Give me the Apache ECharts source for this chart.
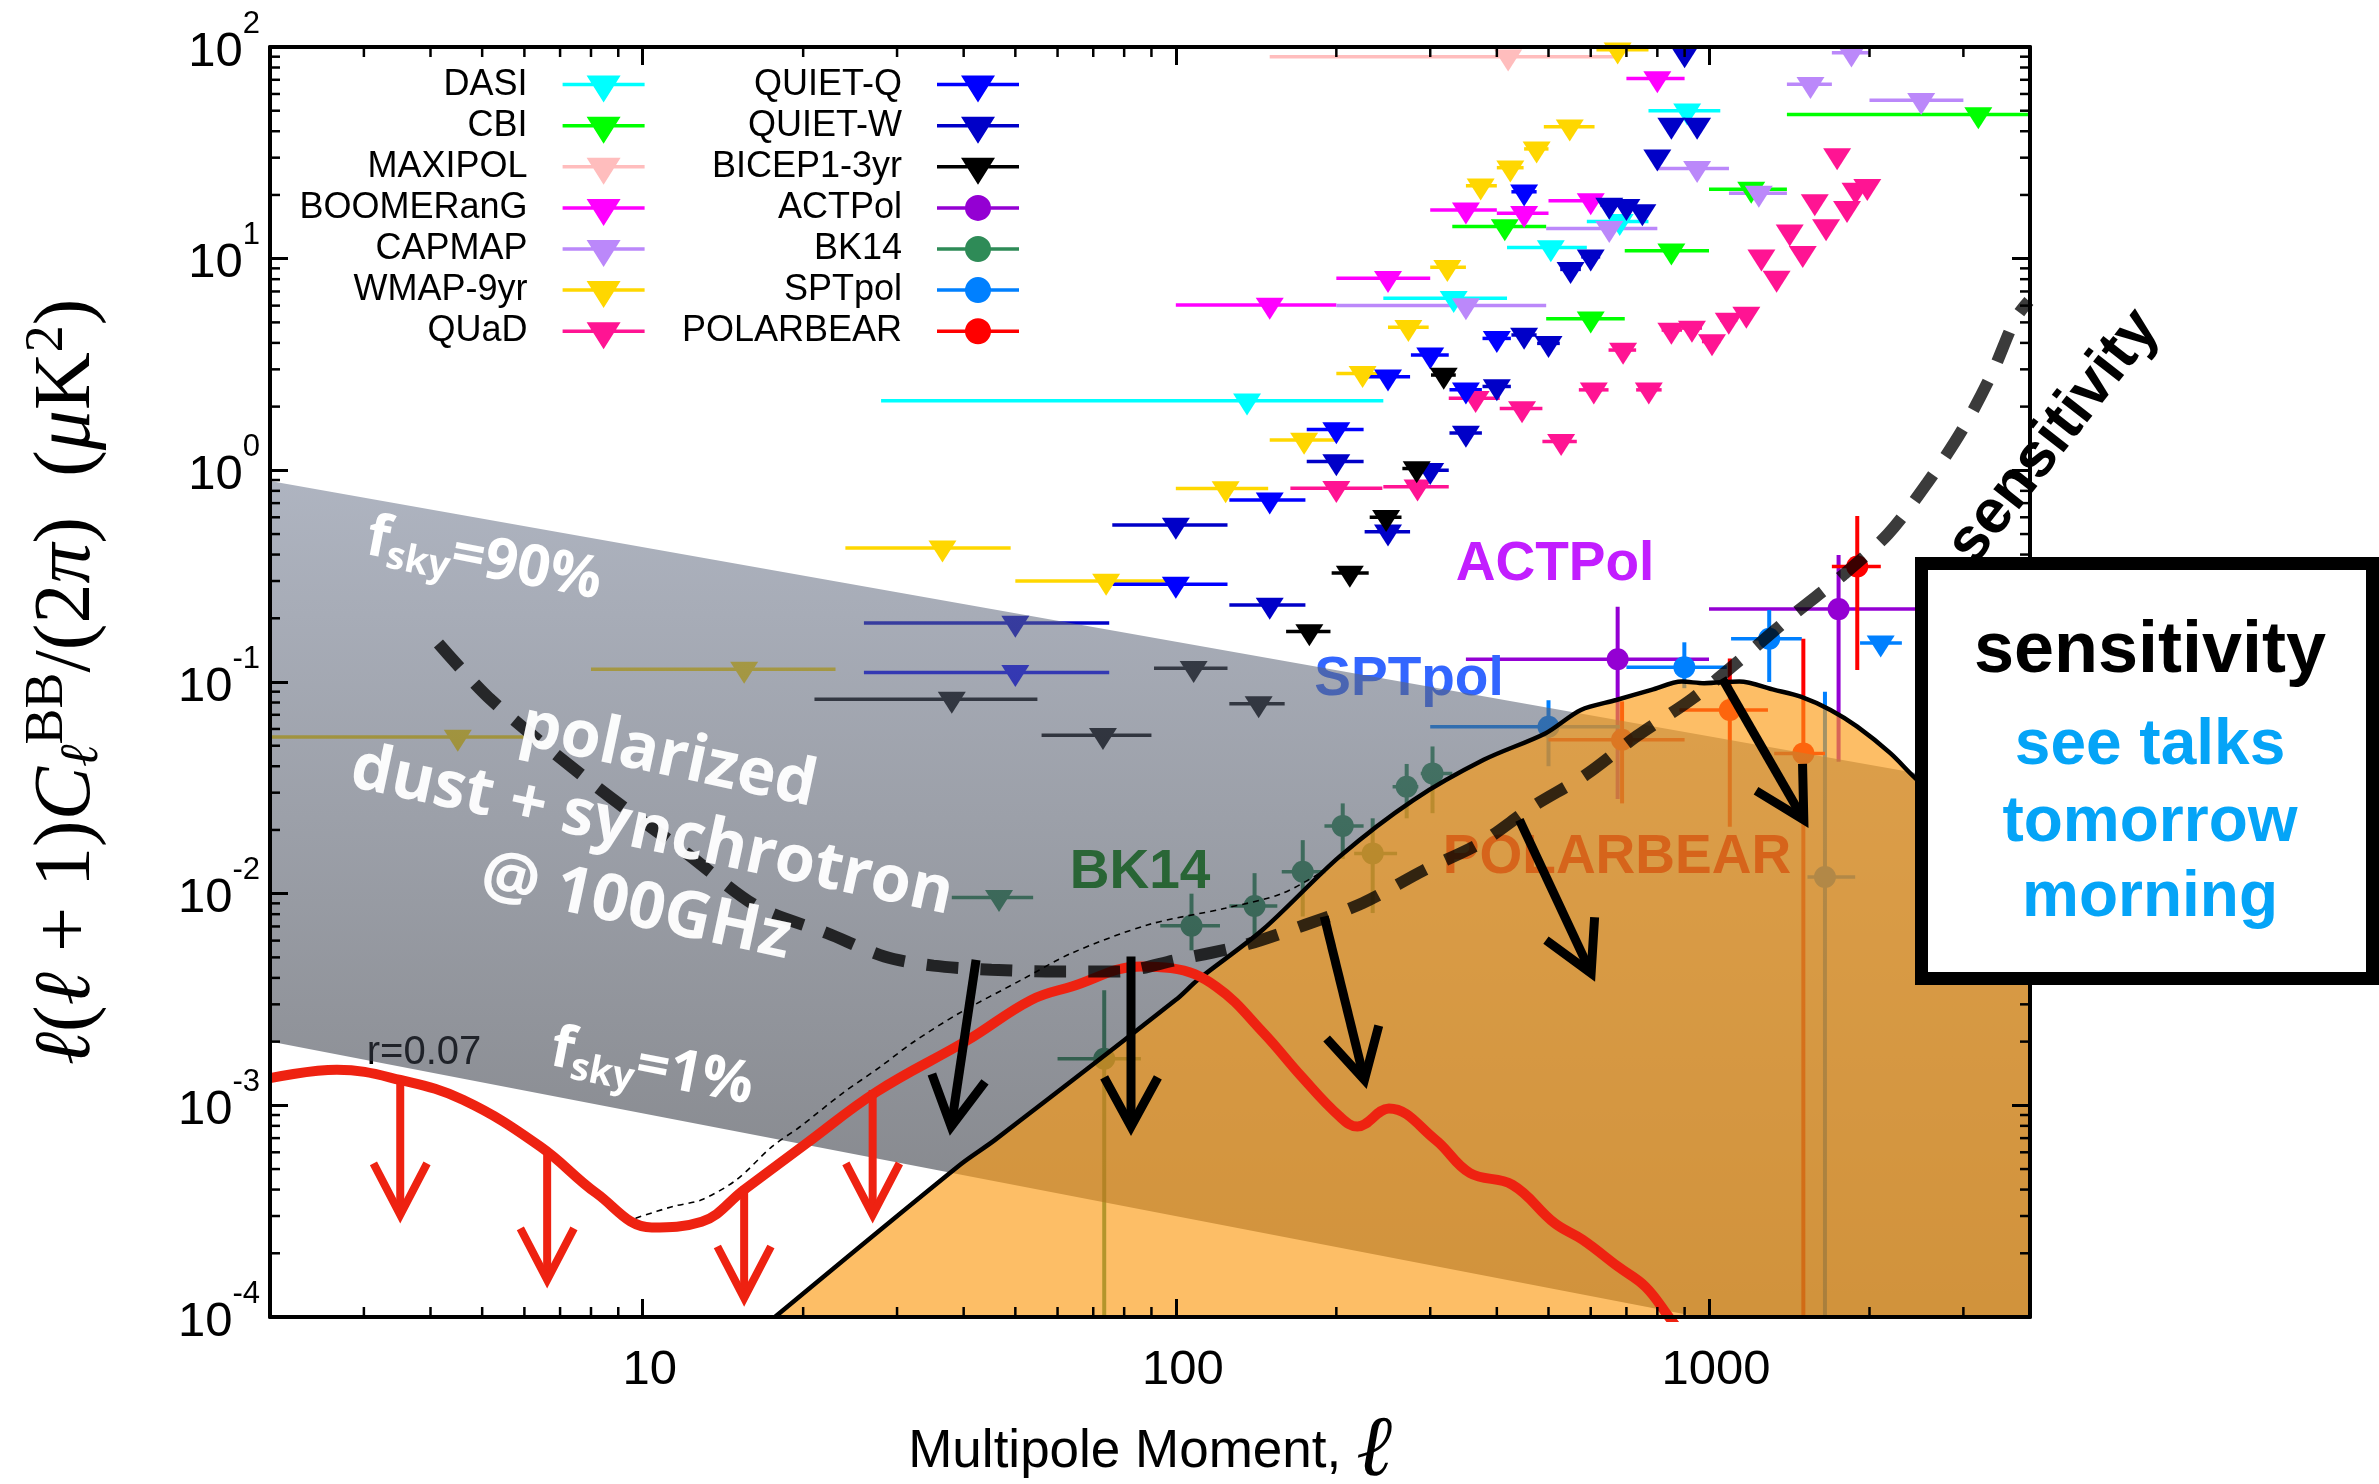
<!DOCTYPE html>
<html><head><meta charset="utf-8">
<script src="https://cdn.jsdelivr.net/npm/echarts@6.0.0/dist/echarts.min.js"></script>
<style>html,body{margin:0;padding:0;background:#fff}#c{width:2379px;height:1484px}</style>
</head><body><div id="c"></div>
<script>
// ================= DATA =================
const X_MIN = 2, X_MAX = 4000, Y_MIN = 1e-4, Y_MAX = 100;
const xTickValues = [10, 100, 1000];
const xTickLabels = ['10', '100', '1000'];
const yTickValues = [1e-4, 1e-3, 1e-2, 1e-1, 1, 10, 100];
const yTickExps = ['-4', '-3', '-2', '-1', '0', '1', '2'];
const minorMult = [2, 3, 4, 5, 6, 7, 8, 9];
const xMinorDecades = [1, 10, 100, 1000];
const yMinorDecades = [1e-4, 1e-3, 1e-2, 1e-1, 1, 10];

// upper limits: [l, lmin, lmax, value]
const DASI = [[136,28,245,2.13],[332,245,418,6.5],[505,418,590,11.3],[680,590,770,15],[910,770,1050,50]];
const CBI = [[414,330,495,14.2],[600,495,695,5.2],[850,695,1000,10.9],[1200,1000,1400,21.3],[3200,1400,4000,48]];
const MAXIPOL = [[420,150,675,90]];
const BOOMERANG = [[150,100,200,6.04],[250,200,300,8.08],[350,300,400,17.0],[450,400,500,16.4],[600,500,700,18.8],[800,700,900,71]];
const CAPMAP = [[350,200,495,6.0],[650,495,800,13.9],[950,800,1090,26.7],[1240,1090,1400,20.4],[1550,1400,1700,66.6],[1850,1700,2000,94],[2500,2000,3000,56]];
const WMAP9 = [[4.5,2,6,0.055],[15.5,8,23,0.115],[36.5,24,49,0.43],[74,50,96,0.30],[124,100,149,0.82],[174,150,199,1.39],[224,200,249,2.87],[273,250,298,4.74],[323,300,350,9.1],[373,350,400,22.1],[424,400,449,26.9],[475,450,500,33],[548,490,610,42],[674,615,770,97]];
const QUAD = [[200,164,244,0.823],[284,245,325,0.837],[365,325,405,2.19],[446,405,487,1.96],[528,487,565,1.37],[608,570,648,2.40],[690,648,730,3.7],[771,730,815,2.40],[850,815,890,4.6],[929,890,970,4.7],[1013,970,1050,4.06],[1089,1050,1130,5.13],[1175,1130,1215,5.48],[1254,1215,1295,10.2],[1339,1295,1380,8.1],[1417,1380,1460,13.4],[1499,1460,1540,10.6],[1579,1540,1620,18.6],[1658,1620,1700,14.2],[1739,1700,1780,30.7],[1815,1780,1850,17.3],[1883,1850,1930,21.1],[1981,1930,2030,22.0]];
const QUIET_Q = [[50,26,75,0.111],[100,76,125,0.29],[150,126,175,0.725],[200,176,225,1.56],[250,226,275,2.77],[300,276,325,3.51],[350,326,375,2.40],[400,376,425,4.2],[450,426,475,20.7]];
const QUIET_W = [[50,26,75,0.19],[100,76,125,0.552],[150,126,175,0.231],[200,176,225,1.10],[250,226,275,0.513],[300,276,325,1.0],[350,326,375,1.50],[400,376,425,2.49],[450,426,475,4.36],[500,476,525,3.98],[550,526,575,8.9],[600,576,625,10.2],[650,626,675,17.9],[700,676,725,17.7],[750,726,775,16.7],[800,776,825,30.3],[850,826,875,42.8],[900,876,925,93],[950,926,975,42.8]];
const BICEP1 = [[38,21,55,0.083],[73,56,90,0.056],[108,91,125,0.116],[143,126,160,0.079],[178,161,195,0.173],[212,196,230,0.327],[248,231,265,0.60],[283,266,300,1.02],[318,301,335,2.82]];
const BK14_UL = [[46.6,38,54,0.0096]];
const SPTPOL_UL = [[2099,1920,2300,0.153]];
// detections: [l, lmin, lmax, value, errLow, errHigh]
const BK14 = [[73.4,60,86,0.00166,1e-5,0.0035],[107,93.5,121,0.00705,0.0054,0.010],[140.5,126,155,0.00875,0.00627,0.0125],[173,158,191,0.0127,0.0078,0.0179],[205.6,190,225,0.0209,0.0146,0.0267],[234,216,260,0.0155,0.0081,0.0227],[271,255,285,0.032,0.0227,0.041],[303,288,330,0.037,0.024,0.0496]];
const ACTPOL = [[674,350,1000,0.128,0.028,0.227],[1750,1000,3000,0.221,0.042,0.398]];
const SPTPOL = [[500,300,680,0.0615,0.040,0.082],[899,700,1080,0.1175,0.0935,0.154],[1297,1100,1493,0.160,0.100,0.219],[1650,1530,1880,0.012,1e-5,0.09]];
const POLARBEAR = [[687,500,900,0.0533,0.0267,0.081],[1094,880,1290,0.0738,0.0207,0.129],[1503,1325,1650,0.046,1e-5,0.16],[1897,1700,2100,0.351,0.114,0.609]];

// theory curves
const lensL = [17.7,39.5,45.8,100,110,145.5,203,279,378,494,575,670,780,889,979,1140,1327,1486,1690,1897,2188,2421,2818,4000];
const lensV = [1.0e-4,5.27e-4,6.87e-4,3.15e-3,3.92e-3,6.75e-3,0.0150,0.0277,0.0429,0.0573,0.0738,0.0822,0.0918,0.1005,0.0987,0.1005,0.0918,0.0853,0.0738,0.0615,0.0461,0.0357,0.0251,0.0112];
const rL = [2,2.67,3.51,4.6,6.43,8.18,10.4,12.9,15.5,20.3,27.5,40.8,53.6,63.8,85.9,98,119,146,172,203,219,251,307,356,428,513,579,675,760,841,900];
const rV = [1.343e-3,1.472e-3,1.318e-3,1.062e-3,6.38e-4,3.85e-4,2.65e-4,2.82e-4,3.99e-4,6.62e-4,1.161e-3,2.04e-3,3.15e-3,3.64e-3,4.53e-3,4.45e-3,3.64e-3,2.2e-3,1.37e-3,8.85e-4,7.94e-4,9.66e-4,6.87e-4,4.79e-4,4.21e-4,2.78e-4,2.32e-4,1.73e-4,1.39e-4,1.0e-4,8e-5];
const totL = [9.7,11.4,12.9,15.0,17.5,19.7,23.7,27.9,32,39,51.4,63.8,88.7,123.6,158,191];
const totV = [2.93e-4,3.33e-4,3.58e-4,4.45e-4,6.4e-4,7.9e-4,1.14e-3,1.52e-3,1.97e-3,2.7e-3,3.92e-3,5.24e-3,7.13e-3,8.53e-3,0.0100,0.0130];
const sensL = [4.14,5.2,8.18,12.1,16.4,22.2,28.4,35.1,45.1,59.7,77.8,100,135,175,224,292,372,467,586,733,933,1164,1432,1786,2168,2564,2985,3396,3758,3981];
const sensV = [0.152,0.0822,0.0321,0.0155,8.69e-3,6.50e-3,5.05e-3,4.57e-3,4.37e-3,4.29e-3,4.29e-3,4.86e-3,5.73e-3,7.13e-3,9.02e-3,0.0129,0.0173,0.0258,0.0363,0.0556,0.0838,0.132,0.206,0.321,0.501,0.869,1.552,2.877,5.22,6.31];
// foreground band (fsky = 90% upper edge, fsky = 1% lower edge)
const fsky90 = [[2, 0.891], [4000, 0.0298]];
const fsky1 = [[2, 0.0020], [4000, 5.0e-5]];
// arrows
const redArrows = [[3.51,1.28e-3,3.04e-4],[6.62,6.03e-4,1.50e-4],[15.5,4.12e-4,1.23e-4],[27.0,1.18e-3,3.04e-4]];
const blackArrows = [[42.2,4.87e-3,37.9,7.94e-4],[82.4,5.05e-3,82.4,7.94e-4],[189.8,7.8e-3,225.8,1.32e-3],[441,0.0223,601,4.21e-3],[1059,0.104,1506,0.0223]];

// ================= STYLE =================
const FONT = '"Liberation Sans", Arial, Helvetica, sans-serif';
const SERIF = '"Liberation Serif", "DejaVu Serif", serif';
const HUM = '"Open Sans", Lato, sans-serif';
const TRI = 'path://M0,0L28,0L14,22Z';
const TRI_ICON = 'path://M0,0M112,36M30,16.25L112,16.25L112,19.75L30,19.75ZM54,9L88,9L71,36Z';
const CIR_ICON = 'path://M0,0M112,36M30,16.25L112,16.25L112,19.75L30,19.75ZM84,18A13,13,0,1,1,58,18A13,13,0,1,1,84,18Z';
const COLORS = {
  'DASI':'#00FFFF','CBI':'#00FF00','MAXIPOL':'#FFBDBD','BOOMERanG':'#FF00FF','CAPMAP':'#BB88FA','WMAP-9yr':'#FFD700','QUaD':'#FF1493',
  'QUIET-Q':'#0000FF','QUIET-W':'#0000C8','BICEP1-3yr':'#000000','ACTPol':'#9400D3','BK14':'#2E8B57','SPTpol':'#0080FF','POLARBEAR':'#FF0000'
};

function barSeries(name, arr, hasErr) {
  const color = COLORS[name];
  return {
    type: 'custom', name, coordinateSystem: 'cartesian2d', z: 2, clip: true, silent: true,
    itemStyle: { color },
    encode: hasErr ? { x: [0, 1, 2], y: [3, 4, 5] } : { x: [0, 1, 2], y: [3] },
    data: arr,
    renderItem(params, api) {
      const l = api.value(0), v = api.value(3);
      const a = api.coord([api.value(1), v]), b = api.coord([api.value(2), v]);
      const ch = [{ type: 'line', shape: { x1: a[0], y1: a[1], x2: b[0], y2: b[1] }, style: { stroke: color, lineWidth: 3.5, fill: 'none' } }];
      if (hasErr) {
        const c = api.coord([l, api.value(4)]), d = api.coord([l, api.value(5)]);
        ch.push({ type: 'line', shape: { x1: c[0], y1: c[1], x2: d[0], y2: d[1] }, style: { stroke: color, lineWidth: 4, fill: 'none' } });
      }
      return { type: 'group', children: ch };
    }
  };
}
function markSeries(name, arr, tri) {
  return {
    type: 'scatter', name, z: 2, silent: true,
    data: arr.map(d => [d[0], d[3]]),
    symbol: tri ? TRI : 'circle', symbolSize: tri ? [28, 22] : 22, symbolOffset: tri ? [0, 3.7] : [0, 0],
    itemStyle: { color: COLORS[name], opacity: 1 }
  };
}
function arrowEls(p0, p1, color, w, hl, ha) {
  const ang = Math.atan2(p1[1] - p0[1], p1[0] - p0[0]);
  const h1 = [p1[0] + hl * Math.cos(ang + Math.PI - ha), p1[1] + hl * Math.sin(ang + Math.PI - ha)];
  const h2 = [p1[0] + hl * Math.cos(ang + Math.PI + ha), p1[1] + hl * Math.sin(ang + Math.PI + ha)];
  const st = { stroke: color, lineWidth: w, fill: 'none', lineJoin: 'miter', lineCap: 'butt', miterLimit: 10 };
  return { type: 'group', children: [
    { type: 'polyline', shape: { points: [p0, p1] }, style: st },
    { type: 'polyline', shape: { points: [h1, p1, h2] }, style: st }
  ] };
}

const upperSets = [['DASI', DASI], ['CBI', CBI], ['MAXIPOL', MAXIPOL], ['BOOMERanG', BOOMERANG], ['CAPMAP', CAPMAP], ['WMAP-9yr', WMAP9], ['QUaD', QUAD], ['QUIET-Q', QUIET_Q], ['QUIET-W', QUIET_W], ['BICEP1-3yr', BICEP1]];
const detSets = [['ACTPol', ACTPOL], ['BK14', BK14], ['SPTpol', SPTPOL], ['POLARBEAR', POLARBEAR]];

const series = [];
upperSets.forEach(([n, a]) => { series.push(barSeries(n, a, false)); series.push(markSeries(n, a, true)); });
detSets.forEach(([n, a]) => { series.push(barSeries(n, a, true)); series.push(markSeries(n, a, false)); });
series.push(barSeries('BK14', BK14_UL, false)); series.push(markSeries('BK14', BK14_UL, true));
series.push(barSeries('SPTpol', SPTPOL_UL, false)); series.push(markSeries('SPTpol', SPTPOL_UL, true));

// grey foreground band
series.push({
  type: 'custom', name: 'foreground', z: 3, silent: true, clip: true,
  data: [[fsky90[0][0], fsky90[0][1]]],
  renderItem(params, api) {
    const pts = [fsky90[0], fsky90[1], fsky1[1], fsky1[0]].map(p => api.coord(p));
    const cs = params.coordSys;
    return { type: 'polygon', shape: { points: pts }, style: {
      fill: new echarts.graphic.LinearGradient(0, pts[0][1], 0, cs.y + cs.height, [
        { offset: 0, color: 'rgba(111,121,143,0.56)' }, { offset: 1, color: 'rgba(30,33,40,0.56)' }], true),
      stroke: 'none' } };
  }
});
// lensing B-modes (orange region)
series.push({ type: 'line', name: 'lensing', z: 4, silent: true, symbol: 'none', smooth: 0.3,
  data: lensL.map((l, i) => [l, lensV[i]]),
  lineStyle: { color: '#000', width: 4.5 },
  areaStyle: { color: 'rgba(252,155,20,0.65)', opacity: 1, origin: 'start' } });
// r = 0.07 primordial
series.push({ type: 'line', name: 'r=0.07', z: 5, silent: true, symbol: 'none', smooth: 0.4,
  data: rL.map((l, i) => [l, rV[i]]), lineStyle: { color: '#EE2211', width: 10 } });
// total (thin dotted)
series.push({ type: 'line', name: 'total', z: 5.2, silent: true, symbol: 'none', smooth: 0.3,
  data: totL.map((l, i) => [l, totV[i]]), lineStyle: { color: '#000', width: 1.6, type: [6, 5] } });
// sensitivity (thick dashed)
series.push({ type: 'line', name: 'sensitivity', z: 5.5, silent: true, symbol: 'none', smooth: 0.3,
  data: sensL.map((l, i) => [l, sensV[i]]), lineStyle: { color: 'rgba(0,0,0,0.77)', width: 12, type: [32, 22], cap: 'butt' } });
// arrows
series.push({ type: 'custom', name: 'redArrows', z: 6, silent: true, clip: false, data: redArrows, encode: { x: [0], y: [1, 2] },
  renderItem(params, api) {
    const l = api.value(0);
    return arrowEls(api.coord([l, api.value(1)]), api.coord([l, api.value(2)]), '#EE2211', 8, 58, 0.48);
  } });
series.push({ type: 'custom', name: 'blackArrows', z: 6, silent: true, clip: false, data: blackArrows, encode: { x: [0, 2], y: [1, 3] },
  renderItem(params, api) {
    return arrowEls(api.coord([api.value(0), api.value(1)]), api.coord([api.value(2), api.value(3)]), '#000', 9, 56, 0.5);
  } });
// minor ticks
const minorX = [], minorY = [];
xMinorDecades.forEach(d => minorMult.forEach(m => { const v = d * m; if (v > X_MIN && v < X_MAX) minorX.push(v); }));
yMinorDecades.forEach(d => minorMult.forEach(m => minorY.push(d * m)));
series.push({ type: 'custom', name: 'minorTicksX', z: 10, silent: true, clip: false, data: minorX.map(v => [v, Y_MIN]),
  renderItem(params, api) {
    const cs = params.coordSys; const x = api.coord([api.value(0), Y_MIN])[0];
    const st = { stroke: '#000', lineWidth: 2.5, fill: 'none' };
    return { type: 'group', children: [
      { type: 'line', shape: { x1: x, y1: cs.y + cs.height, x2: x, y2: cs.y + cs.height - 10 }, style: st },
      { type: 'line', shape: { x1: x, y1: cs.y, x2: x, y2: cs.y + 10 }, style: st }] };
  } });
series.push({ type: 'custom', name: 'minorTicksY', z: 10, silent: true, clip: false, data: minorY.map(v => [X_MIN, v]),
  renderItem(params, api) {
    const cs = params.coordSys; const y = api.coord([X_MIN, api.value(1)])[1];
    const st = { stroke: '#000', lineWidth: 2.5, fill: 'none' };
    return { type: 'group', children: [
      { type: 'line', shape: { x1: cs.x, y1: y, x2: cs.x + 10, y2: y }, style: st },
      { type: 'line', shape: { x1: cs.x + cs.width, y1: y, x2: cs.x + cs.width - 10, y2: y }, style: st }] };
  } });

const axisCommon = {
  type: 'log', logBase: 10, z: 10, splitLine: { show: false },
  axisLine: { show: true, lineStyle: { color: '#000', width: 4 } },
  axisTick: { show: true, inside: true, length: 18, lineStyle: { color: '#000', width: 3 } }
};
const legendCommon = {
  orient: 'vertical', align: 'right', itemWidth: 112, itemHeight: 36, itemGap: 5.1, padding: 0, z: 10,
  selectedMode: false, top: 66.6,
  textStyle: { fontSize: 36, fontFamily: FONT, color: '#000', lineHeight: 36 }
};

const option = {
  animation: false,
  backgroundColor: '#fff',
  grid: { left: 270, right: 349, top: 47, bottom: 167, containLabel: false, outerBoundsMode: 'none' },
  xAxis: [
    Object.assign({}, axisCommon, { position: 'bottom', min: X_MIN, max: X_MAX,
      name: '{a|Multipole Moment, }{l|ℓ}', nameLocation: 'middle', nameGap: 92,
      nameTextStyle: { rich: { a: { fontSize: 53, fontFamily: FONT, color: '#000' }, l: { fontSize: 86, fontFamily: SERIF, fontStyle: 'italic', color: '#000' } } },
      axisLabel: { show: true, margin: 29, fontSize: 49, fontFamily: FONT, color: '#000', padding: [0, 0, 0, 14],
        formatter: v => { const i = xTickValues.findIndex(t => Math.abs(Math.log10(v) - Math.log10(t)) < 1e-6); return i < 0 ? '' : xTickLabels[i]; } } }),
    Object.assign({}, axisCommon, { position: 'top', min: X_MIN, max: X_MAX, axisLabel: { show: false } })
  ],
  yAxis: [
    Object.assign({}, axisCommon, { position: 'left', min: Y_MIN, max: Y_MAX,
      name: '{i|ℓ}{r|(}{i|ℓ}{r| + 1)}{i|C}{d|ℓ}{u|BB}{r|/(2}{i|π}{r|)  (}{i|μ}{r|K}{u|2}{r|)}',
      nameLocation: 'middle', nameGap: 155, nameRotate: 90,
      nameTextStyle: { rich: {
        r: { fontSize: 80, fontFamily: SERIF, color: '#000' },
        i: { fontSize: 80, fontFamily: SERIF, fontStyle: 'italic', color: '#000' },
        u: { fontSize: 54, fontFamily: SERIF, color: '#000', padding: [0, 0, 40, 0] },
        d: { fontSize: 54, fontFamily: SERIF, fontStyle: 'italic', color: '#000', padding: [30, 0, 0, 0] } } },
      axisLabel: { show: true, margin: 10, color: '#000',
        formatter: v => { const i = yTickValues.findIndex(t => Math.abs(Math.log10(v) - Math.log10(t)) < 1e-6); return i < 0 ? '' : '{b|10}{e|' + yTickExps[i] + '}'; },
        rich: { b: { fontSize: 49, fontFamily: FONT, color: '#000', padding: [10, 0, 0, 0] },
                e: { fontSize: 31, fontFamily: FONT, color: '#000', padding: [0, 0, 46, 0] } } } }),
    Object.assign({}, axisCommon, { position: 'right', min: Y_MIN, max: Y_MAX, axisLabel: { show: false } })
  ],
  legend: [
    Object.assign({}, legendCommon, { right: 2379 - 644.6,
      data: ['DASI', 'CBI', 'MAXIPOL', 'BOOMERanG', 'CAPMAP', 'WMAP-9yr', 'QUaD'].map(n => ({ name: n, icon: TRI_ICON, itemStyle: { color: COLORS[n] } })) }),
    Object.assign({}, legendCommon, { right: 2379 - 1019,
      data: ['QUIET-Q', 'QUIET-W', 'BICEP1-3yr'].map(n => ({ name: n, icon: TRI_ICON, itemStyle: { color: COLORS[n] } }))
        .concat(['ACTPol', 'BK14', 'SPTpol', 'POLARBEAR'].map(n => ({ name: n, icon: CIR_ICON, itemStyle: { color: COLORS[n] } }))) })
  ],
  series,
  graphic: [
    { type: 'text', z: 2.5, silent: true, x: 424, y: 1053, style: { text: 'r=0.07', font: '40px ' + FONT, fill: '#000', align: 'center', verticalAlign: 'middle' } },
    { type: 'text', z: 2.5, silent: true, x: 1409, y: 680, style: { text: 'SPTpol', font: 'bold 55px ' + FONT, fill: '#3366FF', align: 'center', verticalAlign: 'middle' } },
    { type: 'text', z: 2.5, silent: true, x: 1140, y: 873, style: { text: 'BK14', font: 'bold 55px ' + FONT, fill: '#008000', align: 'center', verticalAlign: 'middle' } },
    { type: 'text', z: 4.5, silent: true, x: 1617, y: 858, style: { text: 'POLARBEAR', font: 'bold 55px ' + FONT, fill: 'rgba(214,96,24,0.92)', align: 'center', verticalAlign: 'middle' } },
    { type: 'text', z: 6, silent: true, x: 1555, y: 565, style: { text: 'ACTPol', font: 'bold 55px ' + FONT, fill: '#C21EFF', align: 'center', verticalAlign: 'middle' } },
    { type: 'text', z: 6, silent: true, x: 484, y: 560, rotation: -0.19, style: { text: '{m|f}{s|sky}{m|=90%}', align: 'center', verticalAlign: 'middle',
        rich: { m: { fontSize: 58, fontWeight: 'bold', fontFamily: HUM, fill: '#fff' }, s: { fontSize: 38, fontWeight: 'bold', fontFamily: HUM, fill: '#fff', padding: [30, 0, 0, 0] } } } },
    { type: 'text', z: 6, silent: true, x: 652, y: 1068, rotation: -0.19, style: { text: '{m|f}{s|sky}{m|=1%}', align: 'center', verticalAlign: 'middle',
        rich: { m: { fontSize: 58, fontWeight: 'bold', fontFamily: HUM, fill: '#fff' }, s: { fontSize: 38, fontWeight: 'bold', fontFamily: HUM, fill: '#fff', padding: [30, 0, 0, 0] } } } },
    { type: 'text', z: 6, silent: true, x: 652, y: 832, rotation: -0.21, style: { text: 'polarized\ndust + synchrotron\n@ 100GHz', font: 'bold 65px ' + HUM, lineHeight: 77, fill: 'rgba(255,255,255,0.96)', align: 'center', verticalAlign: 'middle' } },
    { type: 'text', z: 6, silent: true, x: 2054, y: 437, rotation: 0.907, style: { text: 'sensitivity', font: 'bold 62px ' + FONT, fill: '#000', align: 'center', verticalAlign: 'middle' } },
    { type: 'rect', z: 20, silent: true, shape: { x: 1921.5, y: 563.5, width: 451, height: 415 }, style: { fill: '#fff', stroke: '#000', lineWidth: 13 } },
    { type: 'text', z: 21, silent: true, x: 2150, y: 652, style: { text: 'sensitivity', font: 'bold 72px ' + FONT, fill: '#000', align: 'center', verticalAlign: 'middle' } },
    { type: 'text', z: 21, silent: true, x: 2150, y: 746, style: { text: 'see talks', font: 'bold 64px ' + FONT, fill: '#05A4F7', align: 'center', verticalAlign: 'middle' } },
    { type: 'text', z: 21, silent: true, x: 2150, y: 823, style: { text: 'tomorrow', font: 'bold 64px ' + FONT, fill: '#05A4F7', align: 'center', verticalAlign: 'middle' } },
    { type: 'text', z: 21, silent: true, x: 2150, y: 898, style: { text: 'morning', font: 'bold 64px ' + FONT, fill: '#05A4F7', align: 'center', verticalAlign: 'middle' } }
  ]
};
const chart = echarts.init(document.getElementById('c'), null, { renderer: 'canvas', width: 2379, height: 1484 });
chart.setOption(option);
</script>
</body></html>
